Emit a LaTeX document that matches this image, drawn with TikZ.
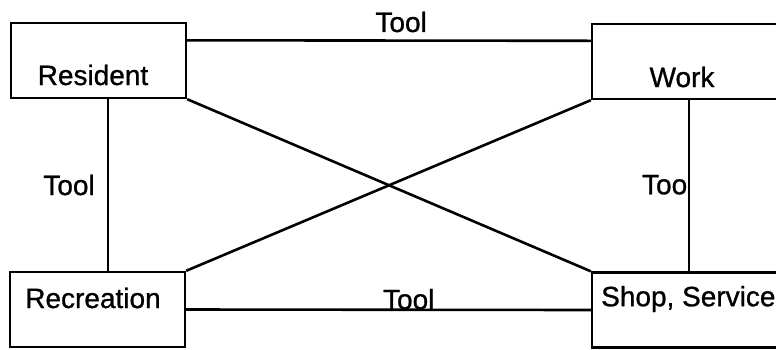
\documentclass[tikz,border=0pt]{standalone}
\usepackage{fontspec}
\setmainfont{Liberation Sans}[FakeBold=0.9]
\begin{document}
\begin{tikzpicture}[x=1pt,y=-1pt,
  every node/.style={font=\fontsize{28}{32}\selectfont, inner sep=0pt},
  box/.style={draw, line width=2.4pt, minimum width=175pt, minimum height=75pt},
  widebox/.style={box, minimum width=200pt},
  link/.style={line width=2.6pt},
  tag/.style={fill=none}]
\useasboundingbox (0,0) rectangle (776,349);
\clip (0,0) rectangle (776,349);

% activity boxes
\node[box]     (res)  at (98.5,60.5)  {};
\node[widebox] (work) at (692,61.5)   {};
\node[box]     (rec)  at (97.5,309.5) {};
\node[widebox] (shop) at (692,310)    {};

% box captions
\node[tag] (resT)  at (93,75)  {Resident};
\node[tag] (workT) at (682,77) {Work};
\node[tag] (recT)  at (93,298) {Recreation};
\node[tag, anchor=west] (shopT) at (601,299) {Shop, Service};

% connections
\draw[link] ([yshift=-18.5pt]res.north east) -- ([yshift=-18pt]work.north west)
  node[tag, pos=0.53, above=7pt] (t1) {Tool};
\draw[link] ([xshift=9.5pt]res.south) -- ([xshift=10.5pt]rec.north)
  node[tag, midway, left=12pt] (t2) {Tool};
\draw[link] ([xshift=-3pt]work.south) -- ([xshift=-3pt]shop.north)
  node[tag, midway, left=0.5pt, yshift=1pt] (t3) {Too};
\draw[link] (rec.east) -- (shop.west)
  node[tag, pos=0.55, above=-1pt] (t4) {Tool};
\draw[link] (res.south east) -- (shop.north west);
\draw[link] (work.south west) -- (rec.north east);
\end{tikzpicture}
\end{document}
